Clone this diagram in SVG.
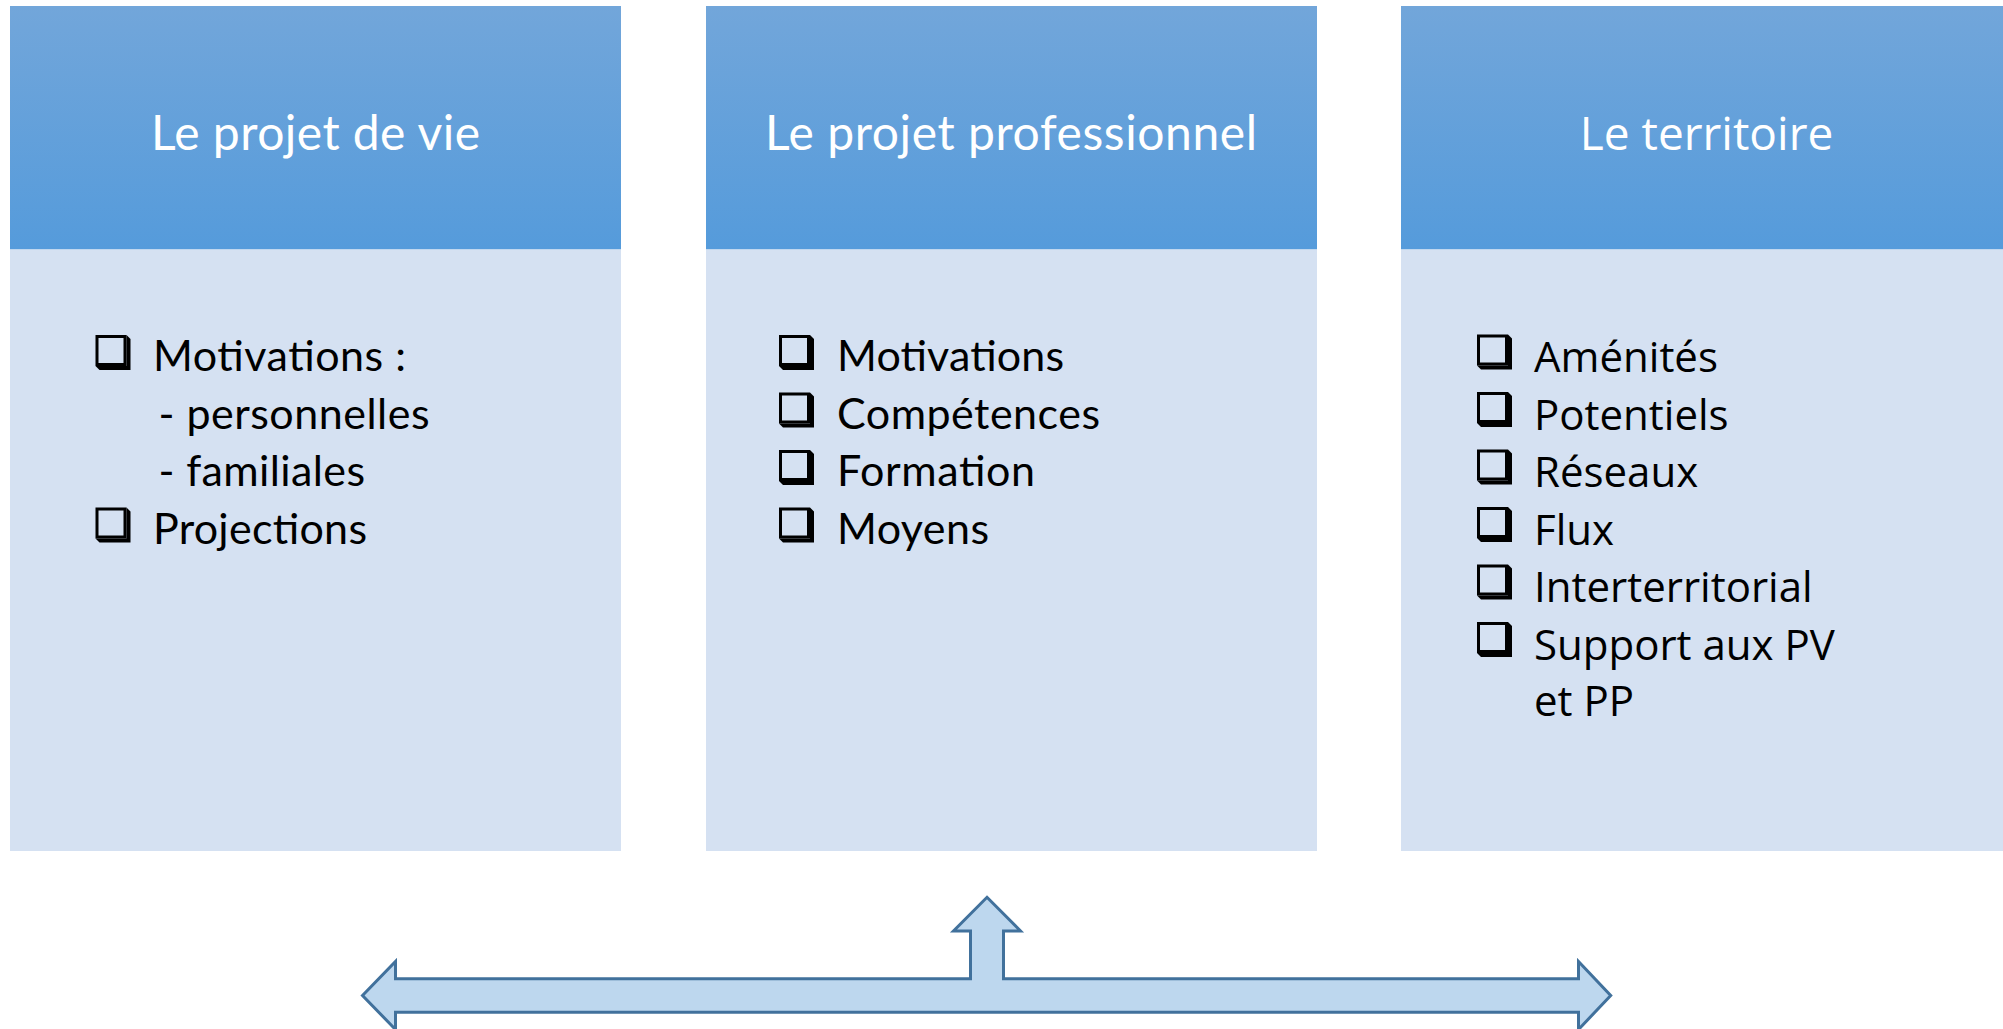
<svg xmlns="http://www.w3.org/2000/svg" xmlns:xlink="http://www.w3.org/1999/xlink" width="2003" height="1029" viewBox="0 0 2003 1029">
  <defs>
    <linearGradient id="hdr" x1="0" y1="0" x2="0" y2="1">
      <stop offset="0" stop-color="#72A6DA"/>
      <stop offset="1" stop-color="#559BDB"/>
    </linearGradient>
    <g id="cb">
      <rect x="1.5" y="1.5" width="28" height="28" fill="none" stroke="#000" stroke-width="3"/>
      <polygon points="31,0 35,4 35,35 4,35 0,31 31,31" fill="#000"/>
    </g>
    <style>
      .hdr { fill: url(#hdr); }
      .body { fill: #D5E1F2; }
      .ht { font-family: Lato, "Liberation Sans", sans-serif; font-size: 48px; fill: #FFFFFF; text-anchor: middle; }
      .ht3 { font-family: "Open Sans", "Noto Sans", sans-serif; font-size: 46px; fill: #FFFFFF; text-anchor: middle; }
      .bt { font-family: Lato, "Liberation Sans", sans-serif; font-size: 43px; fill: #000000; }
      .bt3 { font-family: "Open Sans", "Noto Sans", sans-serif; font-size: 42px; fill: #000000; }
      .arrow { fill: #BDD7EE; stroke: #41719C; stroke-width: 3; stroke-linejoin: miter; }
    </style>
  </defs>

  <rect width="2003" height="1029" fill="#FFFFFF"/>

  <g id="node-projet-de-vie">
    <rect class="hdr" x="10" y="6" width="611" height="243.5"/>
    <rect class="body" x="10" y="249.5" width="611" height="601.5"/>
    <text class="ht" x="315.5" y="150" textLength="329" lengthAdjust="spacing">Le projet de vie</text>
    <use xlink:href="#cb" x="95.5" y="335"/>
    <text class="bt" x="153" y="371" textLength="253" lengthAdjust="spacing">Motivations :</text>
    <text class="bt" x="158.5" y="428.5" textLength="271" lengthAdjust="spacing">- personnelles</text>
    <text class="bt" x="158.5" y="486" textLength="206.5" lengthAdjust="spacing">- familiales</text>
    <use xlink:href="#cb" x="95.5" y="507.5"/>
    <text class="bt" x="153" y="543.5" textLength="214" lengthAdjust="spacing">Projections</text>
  </g>

  <g id="node-projet-professionnel">
    <rect class="hdr" x="706" y="6" width="611" height="243.5"/>
    <rect class="body" x="706" y="249.5" width="611" height="601.5"/>
    <text class="ht" x="1011" y="150" textLength="492" lengthAdjust="spacing">Le projet professionnel</text>
    <use xlink:href="#cb" x="779" y="335"/>
    <text class="bt" x="837" y="371" textLength="227" lengthAdjust="spacing">Motivations</text>
    <use xlink:href="#cb" x="779" y="392.5"/>
    <text class="bt" x="837" y="428.5" textLength="263" lengthAdjust="spacing">Compétences</text>
    <use xlink:href="#cb" x="779" y="450"/>
    <text class="bt" x="837" y="486" textLength="198" lengthAdjust="spacing">Formation</text>
    <use xlink:href="#cb" x="779" y="507.5"/>
    <text class="bt" x="837" y="543.5" textLength="152" lengthAdjust="spacing">Moyens</text>
  </g>

  <g id="node-territoire">
    <rect class="hdr" x="1401" y="6" width="611" height="243.5"/>
    <rect class="body" x="1401" y="249.5" width="611" height="601.5"/>
    <text class="ht3" x="1706.5" y="149.5">Le territoire</text>
    <use xlink:href="#cb" x="1477" y="334.5"/>
    <text class="bt3" x="1534" y="372">Aménités</text>
    <use xlink:href="#cb" x="1477" y="392"/>
    <text class="bt3" x="1534" y="429.5">Potentiels</text>
    <use xlink:href="#cb" x="1477" y="449.5"/>
    <text class="bt3" x="1534" y="487">Réseaux</text>
    <use xlink:href="#cb" x="1477" y="507"/>
    <text class="bt3" x="1534" y="544.5">Flux</text>
    <use xlink:href="#cb" x="1477" y="564.5"/>
    <text class="bt3" x="1534" y="602">Interterritorial</text>
    <use xlink:href="#cb" x="1477" y="622"/>
    <text class="bt3" x="1534" y="659.5">Support aux PV</text>
    <text class="bt3" x="1534" y="716">et PP</text>
  </g>

  <g id="connectors">
    <path class="arrow" d="M362.5,995.5 L395.5,961.5 L395.5,978.7 L970.5,978.7 L970.5,931 L953.5,931 L987,897.3 L1020.5,931 L1003.5,931 L1003.5,978.7 L1578.5,978.7 L1578.5,961.5 L1610.7,995.5 L1578.5,1029.5 L1578.5,1012.3 L395.5,1012.3 L395.5,1029.5 Z"/>
  </g>
</svg>
